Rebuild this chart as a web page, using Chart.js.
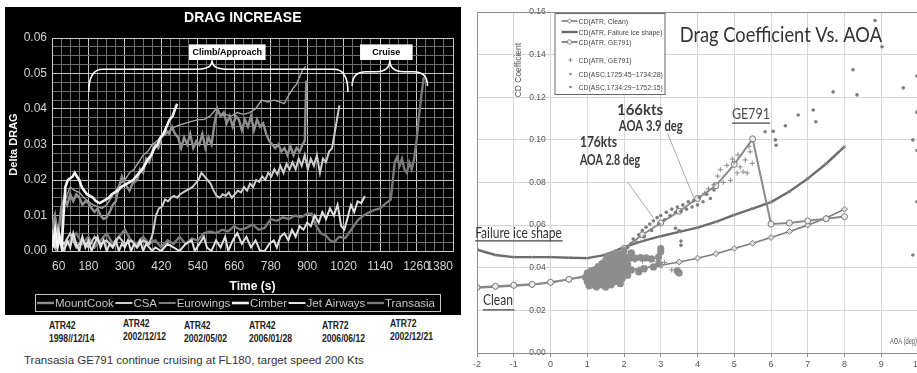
<!DOCTYPE html>
<html><head><meta charset="utf-8">
<script src="https://cdn.jsdelivr.net/npm/chart.js@4.4.1/dist/chart.umd.min.js"></script>
<style>
html,body{margin:0;padding:0;background:#fff;width:917px;height:373px;overflow:hidden;position:relative;font-family:"Liberation Sans",Arial,sans-serif;}
#leftWrap{position:absolute;left:5px;top:7px;width:456px;height:308px;}
#rightWrap{position:absolute;left:461px;top:0;width:470px;height:373px;}
.atr{position:absolute;font-weight:bold;font-size:10px;color:#222;line-height:13px;transform:scaleX(0.86);transform-origin:left top;white-space:nowrap;}
#caption{position:absolute;left:24px;top:353px;font-size:11.5px;line-height:14px;color:#333;white-space:nowrap;}
</style></head><body>
<div id="leftWrap"><canvas id="left"></canvas></div>
<div id="rightWrap"><canvas id="right"></canvas></div>
<div id="atrLabels"></div>
<div id="caption"></div>
<script>
// ---------------- LEFT CHART DATA (Delta DRAG vs time) ----------------
const timeTicks = [60,180,300,420,540,660,780,900,1020,1140,1260,1380];
const deltaDragTicks = [0,0.01,0.02,0.03,0.04,0.05,0.06];
const airlines = ['MountCook','CSA','Eurowings','Cimber','Jet Airways','Transasia'];
const aircraftTypes = ['ATR42','ATR42','ATR42','ATR42','ATR72','ATR72'];
const flightDates = ['1998//12/14','2002/12/12','2002/05/02','2006/01/28','2006/06/12','2002/12/21'];
const captionText = 'Transasia GE791 continue cruising at FL180, target speed 200 Kts';
const phaseLabels = ['Climb/Approach','Cruise'];

const mountCook = [[60,0.006],[70,0.010],[80,0.004],[90,0.012],[100,0.015],[110,0.013],[120,0.016],[130,0.014],[140,0.016],[150,0.015],[160,0.013],[170,0.014],[180,0.0135],[190,0.012],[200,0.011],[210,0.012],[220,0.010],[230,0.009],[240,0.0095],[250,0.011],[260,0.013],[270,0.014],[280,0.018],[290,0.021],[300,0.019],[315,0.017],[325,0.019],[340,0.020],[350,0.023],[360,0.022],[370,0.026],[380,0.025],[390,0.028],[400,0.030],[410,0.029],[420,0.032],[435,0.034],[445,0.033],[455,0.035],[465,0.033],[475,0.032],[485,0.029],[495,0.032],[505,0.030],[515,0.033],[525,0.029],[535,0.031],[545,0.030],[555,0.033],[565,0.029],[575,0.032],[585,0.030],[595,0.036],[605,0.040],[615,0.038],[625,0.039],[635,0.036],[645,0.038],[655,0.035],[665,0.038],[675,0.037],[685,0.034],[695,0.037],[705,0.035],[715,0.038],[725,0.034],[735,0.037],[745,0.035],[755,0.036],[765,0.033],[775,0.031],[785,0.030],[795,0.029],[805,0.030],[815,0.028],[825,0.029],[835,0.027],[845,0.0295],[855,0.027],[865,0.029],[875,0.028],[885,0.030],[892,0.031],[897,0.048]];
const csa = [[60,0.001],[80,0.004],[100,0.002],[120,0.005],[140,0.001],[160,0.003],[180,0.001],[200,0.004],[220,0.002],[240,0.003],[260,0.001],[280,0.004],[300,0.002],[320,0.003],[340,0.001],[360,0.003],[380,0.002],[392,0.005],[402,0.010],[412,0.012],[422,0.0125],[432,0.0145],[442,0.014],[452,0.015],[462,0.0155],[472,0.015],[482,0.016],[492,0.0165],[502,0.017],[512,0.0175],[522,0.018],[532,0.019],[542,0.020],[552,0.022],[562,0.021],[572,0.020],[582,0.019],[592,0.017],[602,0.0155],[612,0.015],[622,0.016],[632,0.0155],[642,0.0165],[652,0.015],[662,0.016],[672,0.017],[682,0.0165],[692,0.018],[702,0.017],[712,0.019],[722,0.018],[732,0.020],[742,0.0195],[752,0.021],[762,0.020],[772,0.022],[782,0.021],[792,0.023],[802,0.0215],[812,0.024],[822,0.022],[832,0.0245],[842,0.023],[852,0.025],[862,0.023],[872,0.026],[882,0.024],[892,0.027],[902,0.023],[912,0.026],[922,0.024],[932,0.027],[942,0.022],[952,0.026],[962,0.025],[972,0.028],[982,0.029],[990,0.033],[998,0.037],[1006,0.041]];
const eurowings = [[60,0.009],[70,0.004],[80,0.006],[90,0.010],[100,0.013],[110,0.016],[120,0.018],[135,0.017],[150,0.0165],[165,0.015],[180,0.014],[195,0.013],[210,0.0125],[225,0.012],[240,0.013],[255,0.015],[270,0.017],[285,0.019],[300,0.020],[315,0.022],[330,0.023],[345,0.025],[360,0.027],[375,0.028],[390,0.030],[405,0.031],[420,0.032],[435,0.033],[450,0.034],[465,0.035],[480,0.0355],[500,0.036],[520,0.0365],[540,0.037],[560,0.037],[580,0.038],[600,0.040],[615,0.038],[630,0.0385],[650,0.038],[670,0.039],[690,0.0385],[710,0.039],[730,0.040],[750,0.0425],[770,0.042],[790,0.0425],[810,0.042],[825,0.0415],[840,0.044],[855,0.046],[865,0.047],[875,0.049],[885,0.051],[895,0.052]];
const cimber = [[62,0.001],[70,0.006],[78,0.001],[85,0.004],[92,0.001],[98,0.010],[104,0.018],[112,0.020],[120,0.0205],[128,0.021],[135,0.022],[142,0.021],[150,0.020],[158,0.018],[166,0.017],[175,0.016],[185,0.0155],[195,0.015],[205,0.014],[217,0.0135],[227,0.014],[237,0.0145],[247,0.015],[257,0.016],[267,0.0165],[277,0.017],[287,0.018],[297,0.0185],[307,0.019],[317,0.0195],[327,0.020],[337,0.021],[347,0.022],[357,0.023],[367,0.0245],[377,0.026],[387,0.027],[397,0.029],[407,0.030],[417,0.032],[427,0.033],[437,0.035],[447,0.037],[457,0.038],[465,0.040],[472,0.0415]];
const jetAirways = [[60,0.004],[70,0.001],[80,0.006],[90,0.002],[100,0.000],[110,0.003],[120,0.001],[130,0.005],[140,0.002],[150,0.000],[160,0.004],[170,0.001],[180,0.003],[190,0.000],[200,0.002],[210,0.004],[220,0.001],[230,0.003],[240,0.000],[250,0.002],[260,0.001],[270,0.003],[280,0.000],[290,0.002],[300,0.001],[310,0.003],[320,0.000],[330,0.002],[340,0.001],[350,0.003],[360,0.000],[370,0.002],[380,0.001],[390,0.000],[400,0.001],[420,0.000],[440,0.002],[460,0.001],[480,0.000],[500,0.002],[520,0.003],[530,0.000],[545,0.002],[560,0.004],[570,0.001],[585,0.000],[600,0.003],[615,0.001],[630,0.004],[640,0.000],[655,0.003],[670,0.005],[685,0.002],[700,0.004],[715,0.001],[730,0.003],[745,0.000],[760,0.000],[775,0.002],[790,0.003],[800,0.001],[812,0.004],[825,0.005],[838,0.003],[850,0.006],[862,0.004],[875,0.007],[888,0.006],[900,0.008],[912,0.007],[925,0.010],[938,0.008],[950,0.011],[962,0.009],[975,0.012],[988,0.010],[1000,0.013],[1012,0.007],[1022,0.006],[1032,0.009],[1044,0.013],[1055,0.011],[1066,0.014],[1078,0.0135],[1090,0.0155]];
const transasia = [[60,0.002],[80,0.004],[100,0.001],[120,0.003],[140,0.005],[160,0.002],[180,0.004],[200,0.001],[220,0.003],[240,0.005],[260,0.002],[280,0.004],[300,0.006],[320,0.003],[340,0.002],[360,0.004],[380,0.002],[400,0.003],[420,0.001],[440,0.003],[460,0.002],[480,0.004],[500,0.002],[520,0.0035],[540,0.003],[560,0.005],[580,0.0055],[600,0.005],[620,0.006],[640,0.0055],[660,0.007],[680,0.006],[700,0.0065],[720,0.0075],[740,0.006],[760,0.0065],[780,0.009],[800,0.0085],[820,0.0095],[840,0.009],[860,0.010],[880,0.0095],[900,0.0105],[915,0.0105],[930,0.007],[945,0.005],[960,0.0045],[975,0.003],[990,0.0025],[1005,0.004],[1025,0.0036],[1045,0.006],[1067,0.0087],[1085,0.010],[1100,0.0107],[1120,0.0115],[1140,0.012],[1160,0.0135],[1175,0.0145],[1182,0.020],[1188,0.025],[1196,0.0265],[1204,0.024],[1212,0.026],[1220,0.023],[1228,0.022],[1236,0.025],[1244,0.023],[1252,0.026],[1260,0.031],[1268,0.038],[1276,0.044],[1284,0.049]];

// phase time ranges [start, end, middle]
const phaseTimes = [[181,1034,587],[1048,1296,1172]];
const phaseBoxTimes = [[511,763],[1074,1247]];

// ---------------- RIGHT CHART DATA (CD vs AOA) ----------------
const aoaValues = [-2,-1.5,-1,-0.5,0,0.5,1,1.5,2,2.5,3,3.5,4,4.5,5,5.5,6,6.5,7,7.5,8];
const aoaTicks = [-2,-1,0,1,2,3,4,5,6,7,8,9,10];
const cdTicks = [0,0.02,0.04,0.06,0.08,0.10,0.12,0.14,0.16];
const cdClean = [0.0305,0.031,0.0315,0.032,0.033,0.0345,0.036,0.0372,0.0385,0.0398,0.0412,0.0427,0.0445,0.0466,0.049,0.0515,0.0542,0.057,0.060,0.0633,0.0675];
const cdFailure = [0.0485,0.046,0.045,0.045,0.045,0.0447,0.0445,0.046,0.0497,0.0525,0.0548,0.0568,0.0588,0.0615,0.0648,0.0677,0.0708,0.0758,0.0818,0.0888,0.0968];
const cdGE791 = [0.0308,0.0313,0.0318,0.0322,0.0332,0.0346,0.0362,0.039,0.049,0.0555,0.061,0.0665,0.0725,0.0785,0.0885,0.1005,0.0605,0.061,0.062,0.063,0.064];
const cdGE791Points = [[4.62,0.086],[4.8,0.088],[5.0,0.0897],[5.16,0.0873],[5.3,0.0906],[5.43,0.0944],[5.24,0.085],[5.08,0.0845],[4.9,0.081],[4.7,0.080],[5.49,0.089],[5.35,0.0845],[4.55,0.083],[4.45,0.079],[4.3,0.077],[4.2,0.075],[5.1,0.093],[4.95,0.091],[5.4,0.097],[2.3,0.0435],[2.5,0.0432],[2.7,0.0435],[2.9,0.0428],[3.1,0.0425],[2.4,0.0395],[2.6,0.040],[2.8,0.0405],[3.3,0.039],[3.5,0.0385]];
const cdASC1 = [[0.95,0.0355],[1.0,0.0335],[1.0,0.0375],[1.05,0.0315],[1.05,0.036],[1.1,0.034],[1.1,0.0385],[1.15,0.032],[1.15,0.0365],[1.2,0.0345],[1.2,0.039],[1.25,0.031],[1.25,0.0365],[1.3,0.0335],[1.3,0.0405],[1.35,0.036],[1.35,0.0385],[1.4,0.032],[1.4,0.0345],[1.4,0.042],[1.45,0.037],[1.45,0.0395],[1.5,0.031],[1.5,0.0355],[1.5,0.0435],[1.55,0.0335],[1.55,0.038],[1.55,0.041],[1.6,0.0365],[1.6,0.0395],[1.6,0.0445],[1.65,0.032],[1.65,0.035],[1.65,0.0425],[1.7,0.0375],[1.7,0.040],[1.7,0.046],[1.75,0.0335],[1.75,0.036],[1.75,0.0435],[1.8,0.0385],[1.8,0.0415],[1.8,0.047],[1.85,0.0345],[1.85,0.0395],[1.85,0.0445],[1.9,0.0325],[1.9,0.037],[1.9,0.0425],[1.95,0.035],[1.95,0.040],[1.95,0.046],[2.0,0.0375],[2.0,0.0435],[2.0,0.048],[2.05,0.0395],[2.05,0.045],[2.1,0.0365],[2.1,0.0415],[2.15,0.0445],[2.2,0.039],[2.2,0.047],[1.25,0.0345],[1.35,0.0325],[1.45,0.0335],[1.5,0.0395],[1.6,0.0335],[1.65,0.0385],[1.7,0.0345],[1.75,0.039],[1.8,0.0355],[1.85,0.0415],[1.9,0.0395],[2.0,0.0405],[1.55,0.0455],[1.7,0.0425],[2.3,0.0445],[2.45,0.0448],[2.6,0.0446],[2.75,0.0442],[2.4,0.038],[2.55,0.0395],[2.8,0.0404],[2.95,0.042],[2.94,0.045],[3.0,0.0475],[3.0,0.049],[3.45,0.0385],[3.5,0.0375]];
const cdASC2 = [[2.1,0.0495],[2.2,0.0515],[2.25,0.0535],[2.35,0.052],[2.4,0.0555],[2.5,0.0575],[2.55,0.0545],[2.6,0.059],[2.7,0.0605],[2.75,0.0575],[2.8,0.062],[2.9,0.0635],[2.95,0.0605],[3.0,0.0645],[3.1,0.0625],[3.15,0.066],[3.25,0.0645],[3.3,0.0675],[3.4,0.066],[3.45,0.0685],[3.55,0.0665],[3.6,0.0695],[3.7,0.0675],[3.75,0.071],[3.85,0.0685],[3.9,0.0715],[4.0,0.0695],[4.05,0.073],[4.15,0.071],[4.25,0.0745],[4.35,0.0725],[4.45,0.0765],[3.4,0.0585],[3.5,0.0575],[3.55,0.0525],[3.55,0.0505],[5.84,0.1038],[6.06,0.104],[6.12,0.1],[6.14,0.0975],[6.39,0.1066],[6.74,0.1117],[7.15,0.114],[7.22,0.1085],[7.69,0.1225],[8.23,0.1329],[8.34,0.1211],[8.83,0.156],[9.02,0.1437],[9.6,0.1244],[9.97,0.13],[9.97,0.113],[9.86,0.1],[9.97,0.095],[9.97,0.071],[9.86,0.046]];
const seriesLabels = ['CD(ATR, Clean)','CD(ATR, Failure ice shape)','CD(ATR, GE791)','CD(ATR, GE791)','CD(ASC,1725:45~1734:28)','CD(ASC,1734:29~1752:15)'];

// ---------------- STYLES ----------------
const FONT = '"Liberation Sans", Arial, sans-serif';
const HFONT = 'Lato, "Open Sans", sans-serif';
const leftSeries = [mountCook, csa, eurowings, cimber, jetAirways, transasia];
const leftColors = ['#8f8f8f','#cdcdcd','#a4a4a4','#f4f4f4','#e0e0e0','#7a7a7a'];
const leftWidths = [2.4,2,1.4,2.6,2,2.4];
const leftOrder = [3,2,4,0,1,5];

const near = (v, list) => list.some(t => Math.abs(t - v) < 1e-7);
const toXY = pairs => pairs.map(p => ({x: p[0], y: p[1]}));

// ---------------- LEFT CHART ----------------
const leftDecor = {
  id: 'leftDecor',
  beforeDraw(chart) {
    const c = chart.ctx; c.save(); c.fillStyle = '#000'; c.fillRect(0, 0, chart.width, chart.height); c.restore();
  },
  afterDatasetsDraw(chart) {
    const c = chart.ctx, xs = chart.scales.x, ys = chart.scales.y;
    const X = v => xs.getPixelForValue(v), Y = v => ys.getPixelForValue(v);
    c.save();
    c.strokeStyle = '#fff'; c.lineWidth = 1.6;
    const brace = (t1, t2, tm, vEnd, vBar, vTip) => {
      const L = X(t1), R = X(t2), M = X(tm), yE = Y(vEnd), yB = Y(vBar), yT = Y(vTip), r = 14;
      c.beginPath(); c.moveTo(L, yE);
      c.quadraticCurveTo(L, yB, L + r, yB); c.lineTo(M - r, yB);
      c.quadraticCurveTo(M, yB, M, yT); c.quadraticCurveTo(M, yB, M + r, yB);
      c.lineTo(R - r, yB); c.quadraticCurveTo(R, yB, R, yE); c.stroke();
    };
    brace(phaseTimes[0][0], phaseTimes[0][1], phaseTimes[0][2], 0.0448, 0.0512, 0.0537);
    brace(phaseTimes[1][0], phaseTimes[1][1], phaseTimes[1][2], 0.0465, 0.0505, 0.0537);
    phaseLabels.forEach((lab, i) => {
      const x1 = X(phaseBoxTimes[i][0]), x2 = X(phaseBoxTimes[i][1]), y1 = Y(0.0582), y2 = Y(0.0538);
      c.fillStyle = '#fff'; c.fillRect(x1, y1, x2 - x1, y2 - y1);
      c.fillStyle = '#000'; c.font = 'bold 9px ' + FONT; c.textAlign = 'center'; c.textBaseline = 'middle';
      c.fillText(lab, (x1 + x2) / 2, (y1 + y2) / 2 + 0.5);
    });
    c.restore();
  },
  afterDraw(chart) {
    const c = chart.ctx, ca = chart.chartArea, xs = chart.scales.x;
    c.save();
    c.fillStyle = '#fff'; c.font = 'bold 14px ' + FONT; c.textAlign = 'center'; c.textBaseline = 'middle';
    c.fillText('DRAG INCREASE', xs.getPixelForValue(688), ca.top - 20);
    const bL = ca.left - 17, bR = ca.right - 13, bT = ca.bottom + 43, bB = ca.bottom + 60;
    c.strokeStyle = '#c8c8c8'; c.lineWidth = 1; c.strokeRect(bL + 0.5, bT + 0.5, bR - bL, bB - bT);
    c.font = '11.5px ' + FONT; c.textAlign = 'left';
    const lineLen = 17;
    const ds = chart.data.datasets;
    const widths = ds.map(d => lineLen + 1 + c.measureText(d.label).width);
    const total = widths.reduce((a, b) => a + b, 0);
    const gap = ((bR - 5) - (bL + 2) - total) / (ds.length - 1);
    let x = bL + 2; const yc = (bT + bB) / 2 + 0.5;
    ds.forEach((d, i) => {
      c.strokeStyle = d.borderColor; c.lineWidth = Math.max(1.5, d.borderWidth);
      c.beginPath(); c.moveTo(x, yc); c.lineTo(x + lineLen, yc); c.stroke();
      c.fillStyle = '#c4c4c4'; c.fillText(d.label, x + lineLen + 1, yc + 0.5);
      x += widths[i] + gap;
    });
    c.restore();
  }
};

const xMajor = v => Math.abs(((v - 60) / 120) - Math.round((v - 60) / 120)) < 1e-7;
const yMajor = v => Math.abs(v / 0.01 - Math.round(v / 0.01)) < 1e-6;

new Chart(document.getElementById('left'), {
  type: 'line',
  data: {
    datasets: airlines.map((name, i) => ({
      label: name, data: toXY(leftSeries[i]), borderColor: leftColors[i], backgroundColor: leftColors[i],
      borderWidth: leftWidths[i], pointRadius: 0, tension: 0, fill: false, order: leftOrder[i]
    }))
  },
  options: {
    responsive: true, maintainAspectRatio: false, animation: false,
    layout: {padding: {top: 31, right: 6, left: 0, bottom: 20}},
    plugins: {legend: {display: false}, title: {display: false}, tooltip: {enabled: false}},
    scales: {
      x: {
        type: 'linear', min: 60, max: 1380,
        ticks: {stepSize: 30, autoSkip: false, maxRotation: 0, align: 'inner', color: '#d4d4d4', padding: 8,
          font: {size: 12, family: FONT}, callback: v => near(v, timeTicks) ? String(v) : ''},
        grid: {drawTicks: false, lineWidth: 1, color: c => (c.tick && xMajor(c.tick.value)) ? '#c8c8c8' : '#6e6e6e'},
        border: {color: '#d0d0d0'},
        title: {display: true, text: 'Time (s)', color: '#fff', font: {size: 12, weight: 'bold', family: FONT}, padding: {top: 0, bottom: 1}},
        afterFit: s => { s.height = 44; }
      },
      y: {
        type: 'linear', min: 0, max: 0.06,
        ticks: {stepSize: 0.0025, autoSkip: false, color: '#d4d4d4', padding: 5, font: {size: 12, family: FONT},
          callback: v => near(v, deltaDragTicks) ? v.toFixed(2) : ''},
        grid: {drawTicks: false, lineWidth: 1, color: c => (c.tick && yMajor(c.tick.value)) ? '#c8c8c8' : '#6e6e6e'},
        border: {color: '#d0d0d0'},
        title: {display: true, text: 'Delta DRAG', color: '#fff', font: {size: 11, weight: 'bold', family: FONT}, padding: {top: 2, bottom: 0}},
        afterFit: s => { s.width = 47; }
      }
    }
  },
  plugins: [leftDecor]
});

// labels under left chart
const atrColumnLeft = [49,123,184,249,322,390];
const atrColumnTop = [319,317,319,319,319,317];
const atrBox = document.getElementById('atrLabels');
aircraftTypes.forEach((t, i) => {
  const d = document.createElement('div'); d.className = 'atr';
  d.style.left = atrColumnLeft[i] + 'px'; d.style.top = atrColumnTop[i] + 'px';
  d.innerHTML = t + '<br>' + flightDates[i];
  atrBox.appendChild(d);
});
document.getElementById('caption').textContent = captionText;

// ---------------- RIGHT CHART ----------------
function fitText(c, text, x1, x2, yBase, font, color) {
  c.save(); c.font = font; const w = c.measureText(text).width; const sx = (x2 - x1) / w;
  c.translate(x1, yBase); c.scale(sx, 1); c.fillStyle = color; c.textAlign = 'left'; c.textBaseline = 'alphabetic';
  c.fillText(text, 0, 0); c.restore();
}
function drawSymbol(c, style, x, y, r, fill, stroke) {
  c.beginPath();
  if (style === 'rectRot') { c.moveTo(x, y - r); c.lineTo(x + r, y); c.lineTo(x, y + r); c.lineTo(x - r, y); c.closePath(); c.fillStyle = fill; c.fill(); c.strokeStyle = stroke; c.stroke(); }
  else if (style === 'circle') { c.arc(x, y, r, 0, Math.PI * 2); c.fillStyle = fill; c.fill(); c.strokeStyle = stroke; c.stroke(); }
  else if (style === 'cross') { c.moveTo(x - r, y); c.lineTo(x + r, y); c.moveTo(x, y - r); c.lineTo(x, y + r); c.strokeStyle = stroke; c.stroke(); }
  else if (style === 'dot') { c.arc(x, y, r, 0, Math.PI * 2); c.fillStyle = fill; c.fill(); }
}

const rightDecor = {
  id: 'rightDecor',
  afterDatasetsDraw(chart) {
    const c = chart.ctx, ca = chart.chartArea;
    const X = v => chart.scales.x.getPixelForValue(v), Y = v => chart.scales.y.getPixelForValue(v);
    c.save();
    c.strokeStyle = '#8c8c8c'; c.lineWidth = 1;
    c.strokeRect(ca.left + 0.5, ca.top + 0.5, ca.right - ca.left, ca.bottom - ca.top);
    c.strokeStyle = '#a9a9a9'; c.lineWidth = 1;
    c.beginPath(); c.moveTo(X(3.18), Y(0.1033)); c.lineTo(X(3.9), Y(0.0728)); c.stroke();
    c.beginPath(); c.moveTo(X(2.09), Y(0.0803)); c.lineTo(X(2.8), Y(0.0634)); c.stroke();
    fitText(c, 'Drag Coefficient Vs. AOA', X(3.52), X(9.02), Y(0.1459), '21px ' + HFONT, '#333');
    fitText(c, '166kts', X(1.81), X(3.06), Y(0.1117), 'bold 16px ' + HFONT, '#3a3a3a');
    fitText(c, 'AOA 3.9 deg', X(1.86), X(3.6), Y(0.1042), 'bold 16px ' + HFONT, '#3a3a3a');
    fitText(c, '176kts', X(0.80), X(1.81), Y(0.0967), 'bold 16px ' + HFONT, '#3a3a3a');
    fitText(c, 'AOA 2.8 deg', X(0.80), X(2.44), Y(0.0882), 'bold 16px ' + HFONT, '#3a3a3a');
    fitText(c, 'GE791', X(4.94), X(5.97), Y(0.1098), '16px ' + HFONT, '#4a4a4a');
    fitText(c, 'Failure ice shape', X(-2.05), X(0.31), Y(0.054), '16px ' + HFONT, '#333');
    fitText(c, 'Clean', X(-1.84), X(-1.02), Y(0.0225), '16px ' + HFONT, '#333');
    c.strokeStyle = '#444'; c.lineWidth = 1.3;
    [[4.94, 5.97, 0.1079], [-2.05, 0.33, 0.0526], [-1.84, -0.98, 0.0202]].forEach(u => {
      c.beginPath(); c.moveTo(X(u[0]), Y(u[2])); c.lineTo(X(u[1]), Y(u[2])); c.stroke();
    });
    fitText(c, 'AOA (deg)', X(9.24), X(9.97), Y(0.0042), '9px ' + FONT, '#555');
    c.save(); c.translate(X(-0.88), (Y(0.1455) + Y(0.120)) / 2); c.rotate(-Math.PI / 2);
    c.font = '9px ' + FONT; const w = c.measureText('CD Coefficient').width; const sc = (Y(0.120) - Y(0.1455)) / w;
    c.scale(sc, 1); c.fillStyle = '#555'; c.textAlign = 'center'; c.textBaseline = 'middle'; c.fillText('CD Coefficient', 0, 0); c.restore();
    // legend
    const bL = X(0) + 4, bR = bL + 110, bT = ca.top + 1, bB = ca.top + 82;
    c.fillStyle = '#fff'; c.fillRect(bL, bT, bR - bL, bB - bT);
    c.strokeStyle = '#666'; c.lineWidth = 1; c.strokeRect(bL + 0.5, bT + 0.5, bR - bL, bB - bT);
    const rowY = [8, 19, 29, 47, 61, 74];
    c.font = '8px ' + FONT;
    chart.data.datasets.forEach((d, i) => {
      const y = bT + rowY[i], sx = bL + 7;
      c.lineWidth = 1;
      if (d.showLine) {
        c.strokeStyle = d.borderColor; c.lineWidth = d.borderWidth;
        c.beginPath(); c.moveTo(sx, y); c.lineTo(sx + 16, y); c.stroke(); c.lineWidth = 1;
        if (d.pointStyle === 'rectRot' || d.pointStyle === 'circle') drawSymbol(c, d.pointStyle, sx + 8, y, 2.2, '#fff', d.borderColor);
      } else {
        drawSymbol(c, d.pointStyle === 'cross' ? 'cross' : 'dot', sx + 9, y, d.pointStyle === 'cross' ? 2.2 : 1.3, d.backgroundColor, d.borderColor);
      }
      c.font = '8px ' + FONT;
      const tw = c.measureText(d.label).width;
      fitText(c, d.label, sx + 17, sx + 17 + 0.86 * tw, y + 2.8, '8px ' + FONT, '#444');
    });
    c.restore();
  }
};

new Chart(document.getElementById('right'), {
  type: 'scatter',
  data: {
    datasets: [
      {label: seriesLabels[0], data: aoaValues.map((a, i) => ({x: a, y: cdClean[i]})), showLine: true, borderColor: '#7c7c7c', borderWidth: 1.6,
        pointStyle: 'rectRot', pointRadius: 3, pointBackgroundColor: '#dcdcdc', pointBorderColor: '#7c7c7c', pointBorderWidth: 1, order: 4},
      {label: seriesLabels[1], data: aoaValues.map((a, i) => ({x: a, y: cdFailure[i]})), showLine: true, borderColor: '#6c6c6c', borderWidth: 2.4,
        pointStyle: 'crossRot', pointRadius: 2, pointBorderColor: '#888', pointBorderWidth: 1, order: 5},
      {label: seriesLabels[2], data: aoaValues.map((a, i) => ({x: a, y: cdGE791[i]})), showLine: true, borderColor: '#8a8a8a', borderWidth: 2,
        pointStyle: 'circle', pointRadius: 3, pointBackgroundColor: '#ececec', pointBorderColor: '#7a7a7a', pointBorderWidth: 1, order: 3},
      {label: seriesLabels[3], data: toXY(cdGE791Points), showLine: false, pointStyle: 'cross', pointRadius: 2.6,
        borderColor: '#8a8a8a', backgroundColor: '#8a8a8a', pointBorderWidth: 1, order: 0},
      {label: seriesLabels[4], data: toXY(cdASC1), showLine: false, pointStyle: 'circle', pointRadius: 3.6,
        borderColor: '#8d8d8d', backgroundColor: '#8d8d8d', pointBorderWidth: 0, order: 1},
      {label: seriesLabels[5], data: toXY(cdASC2), showLine: false, pointStyle: 'circle', pointRadius: 1.8,
        borderColor: '#7e7e7e', backgroundColor: '#7e7e7e', pointBorderWidth: 0, order: 2}
    ]
  },
  options: {
    responsive: true, maintainAspectRatio: false, animation: false,
    layout: {padding: {left: 16, top: 12, right: 13, bottom: 0}},
    plugins: {legend: {display: false}, title: {display: false}, tooltip: {enabled: false}},
    scales: {
      x: {
        type: 'linear', min: -2, max: 10,
        ticks: {stepSize: 1, autoSkip: false, maxRotation: 0, color: '#555', padding: 2, font: {size: 9, family: FONT},
          callback: v => near(v, aoaTicks) ? String(v) : ''},
        grid: {color: '#d6d6d6', tickLength: 4, tickColor: '#888'},
        border: {color: '#888'},
        afterFit: s => { s.height = 20; }
      },
      y: {
        type: 'linear', min: 0, max: 0.16, position: {x: 0},
        ticks: {stepSize: 0.02, autoSkip: false, color: '#555', font: {size: 8.5, family: FONT},
          callback: v => near(v, cdTicks) ? v.toFixed(2) + '  ' : ''},
        grid: {color: '#d6d6d6', drawTicks: false},
        border: {display: false}
      }
    }
  },
  plugins: [rightDecor]
});
</script>
</body></html>
